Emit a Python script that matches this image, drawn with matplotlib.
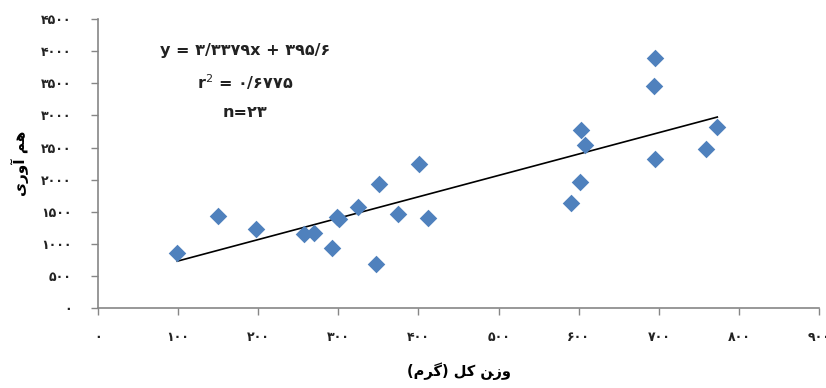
import matplotlib
matplotlib.use("Agg")
import matplotlib.pyplot as plt
import numpy as np

plt.rcParams['font.family'] = ['DejaVu Sans']

# data
weight = [99, 150, 197, 257, 270, 292, 298, 301, 324, 347, 351, 374,
          401, 412, 591, 602, 603, 608, 694, 695, 695, 759, 773]
fecundity = [858, 1435, 1223, 1150, 1170, 936, 1420, 1379, 1576, 677, 1930, 1462,
             2246, 1404, 1638, 1966, 2772, 2538, 3463, 3890, 2320, 2476, 2819]
slope = 3.3379
intercept = 395.6

x_ticks = [0, 100, 200, 300, 400, 500, 600, 700, 800, 900]
y_ticks = [0, 500, 1000, 1500, 2000, 2500, 3000, 3500, 4000, 4500]

PERSIAN = str.maketrans("0123456789.", "۰۱۲۳۴۵۶۷۸۹/")
def fa(v):
    return str(v).translate(PERSIAN)

# presentation-form (visual order) strings
xlabel = "(\uFEE1\uFEAE\uFB94) \uFEDE\uFB90 \uFEE6\uFEAF\uFEED"   # وزن کل (گرم)
ylabel = "\uFBFC\uFEAD\uFEED\uFE81 \uFEE2\uFEEB"                  # هم آوری

fig = plt.figure(figsize=(8.26, 3.88), dpi=100)
ax = fig.add_axes([0.1186, 0.207, 0.873, 0.743])

ax.scatter(weight, fecundity, marker='D', s=80, color='#4F81BD', linewidths=0, zorder=3)
xl = np.array([min(weight), max(weight)])
ax.plot(xl, slope * xl + intercept, color='black', lw=1.2, zorder=2)

ax.set_xlim(0, 900)
ax.set_ylim(0, 4500)
ax.set_xticks(x_ticks)
ax.set_yticks(y_ticks)
ax.set_xticklabels([fa(v) for v in x_ticks], fontsize=9, fontweight='bold', color='#222222')
ax.set_yticklabels([fa(v) for v in y_ticks], fontsize=9, fontweight='bold', color='#222222')
ax.tick_params(axis='both', direction='out', length=5, color='#868686', width=1)
ax.tick_params(axis='x', pad=12)
ax.tick_params(axis='y', pad=14)
for s in ['top', 'right']:
    ax.spines[s].set_visible(False)
for s in ['left', 'bottom']:
    ax.spines[s].set_color('#868686')
    ax.spines[s].set_linewidth(1.2)

ax.set_xlabel(xlabel, fontsize=10.5, fontweight='bold', labelpad=13)
ax.set_ylabel(ylabel, fontsize=11, fontweight='bold', labelpad=9)

eq = "y = " + fa(slope) + "x + " + fa(intercept)
r2 = "r$^{2}$ = " + fa("0.6775")
n = "n=" + fa(len(weight))
tx = 245 / 826
for txt, yp in [(eq, 50.5), (r2, 82), (n, 112.5)]:
    fig.text(tx, 1 - yp / 388, txt, ha='center', va='center', fontsize=11.5,
             fontweight='bold', color='#222222')

fig.savefig("out.png", dpi=100)
